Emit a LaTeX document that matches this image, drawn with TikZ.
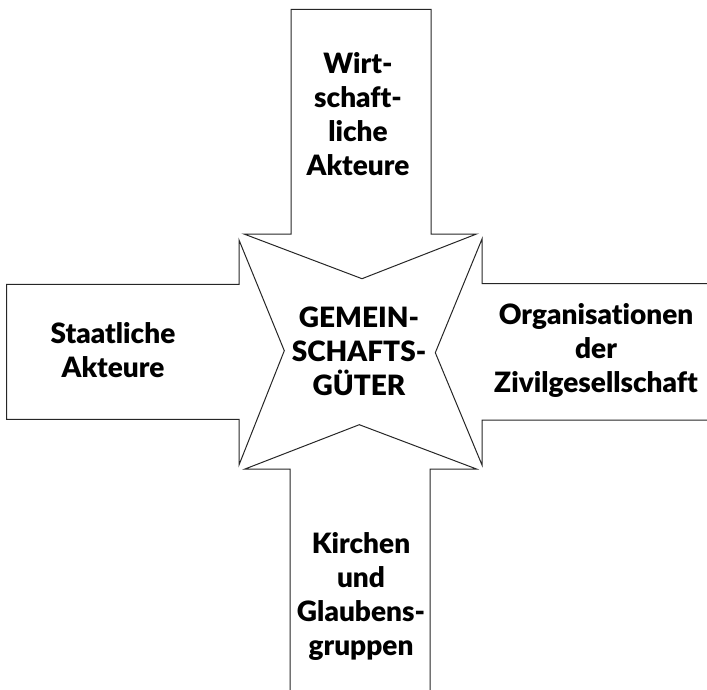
\documentclass[tikz,border=0pt]{standalone}
\usepackage{fontspec}
\newfontfamily\labfont[Ligatures={NoCommon}]{Lato Black}
\begin{document}
\begin{tikzpicture}[x=1pt,y=-1pt,
  shape line/.style={draw=black!85, line width=1pt, line join=miter},
  lab/.style={font=\labfont\fontsize{28}{34}\selectfont, align=center, inner sep=0pt}]
\useasboundingbox (0,0) rectangle (707,690);
% top arrow
\draw[shape line] (291,9.5) -- (431,9.5) -- (431,234) -- (476.5,234) -- (362,278.7) -- (244,234) -- (291,234) -- cycle;
% left arrow
\draw[shape line] (6.5,284.3) -- (239,284.3) -- (239,240) -- (284.3,350.7) -- (239,465) -- (239,419.3) -- (6.5,419.3) -- cycle;
% right arrow (cut by the right edge)
\draw[shape line] (708,283.5) -- (482,283.5) -- (482,239) -- (435.3,352.7) -- (482,465) -- (482,420) -- (708,420);
% bottom arrow (cut by the bottom edge)
\draw[shape line] (290,691) -- (290,469) -- (245,469) -- (359.3,424.7) -- (476.5,469) -- (430,469) -- (430,691);
% labels
\node[lab] (wirt) at (358,114) {Wirt-\\schaft-\\liche\\Akteure};
\node[lab] (staat) at (113,350) {Staatliche\\Akteure};
\node[lab] (gem) at (359,351) {GEMEIN-\\SCHAFTS-\\GÜTER};
\node[lab] (org) at (596,350) {Organisationen\\der\\Zivilgesellschaft};
\node[lab] (kirch) at (361,596) {Kirchen\\und\\Glaubens-\\gruppen};
\end{tikzpicture}
\end{document}
